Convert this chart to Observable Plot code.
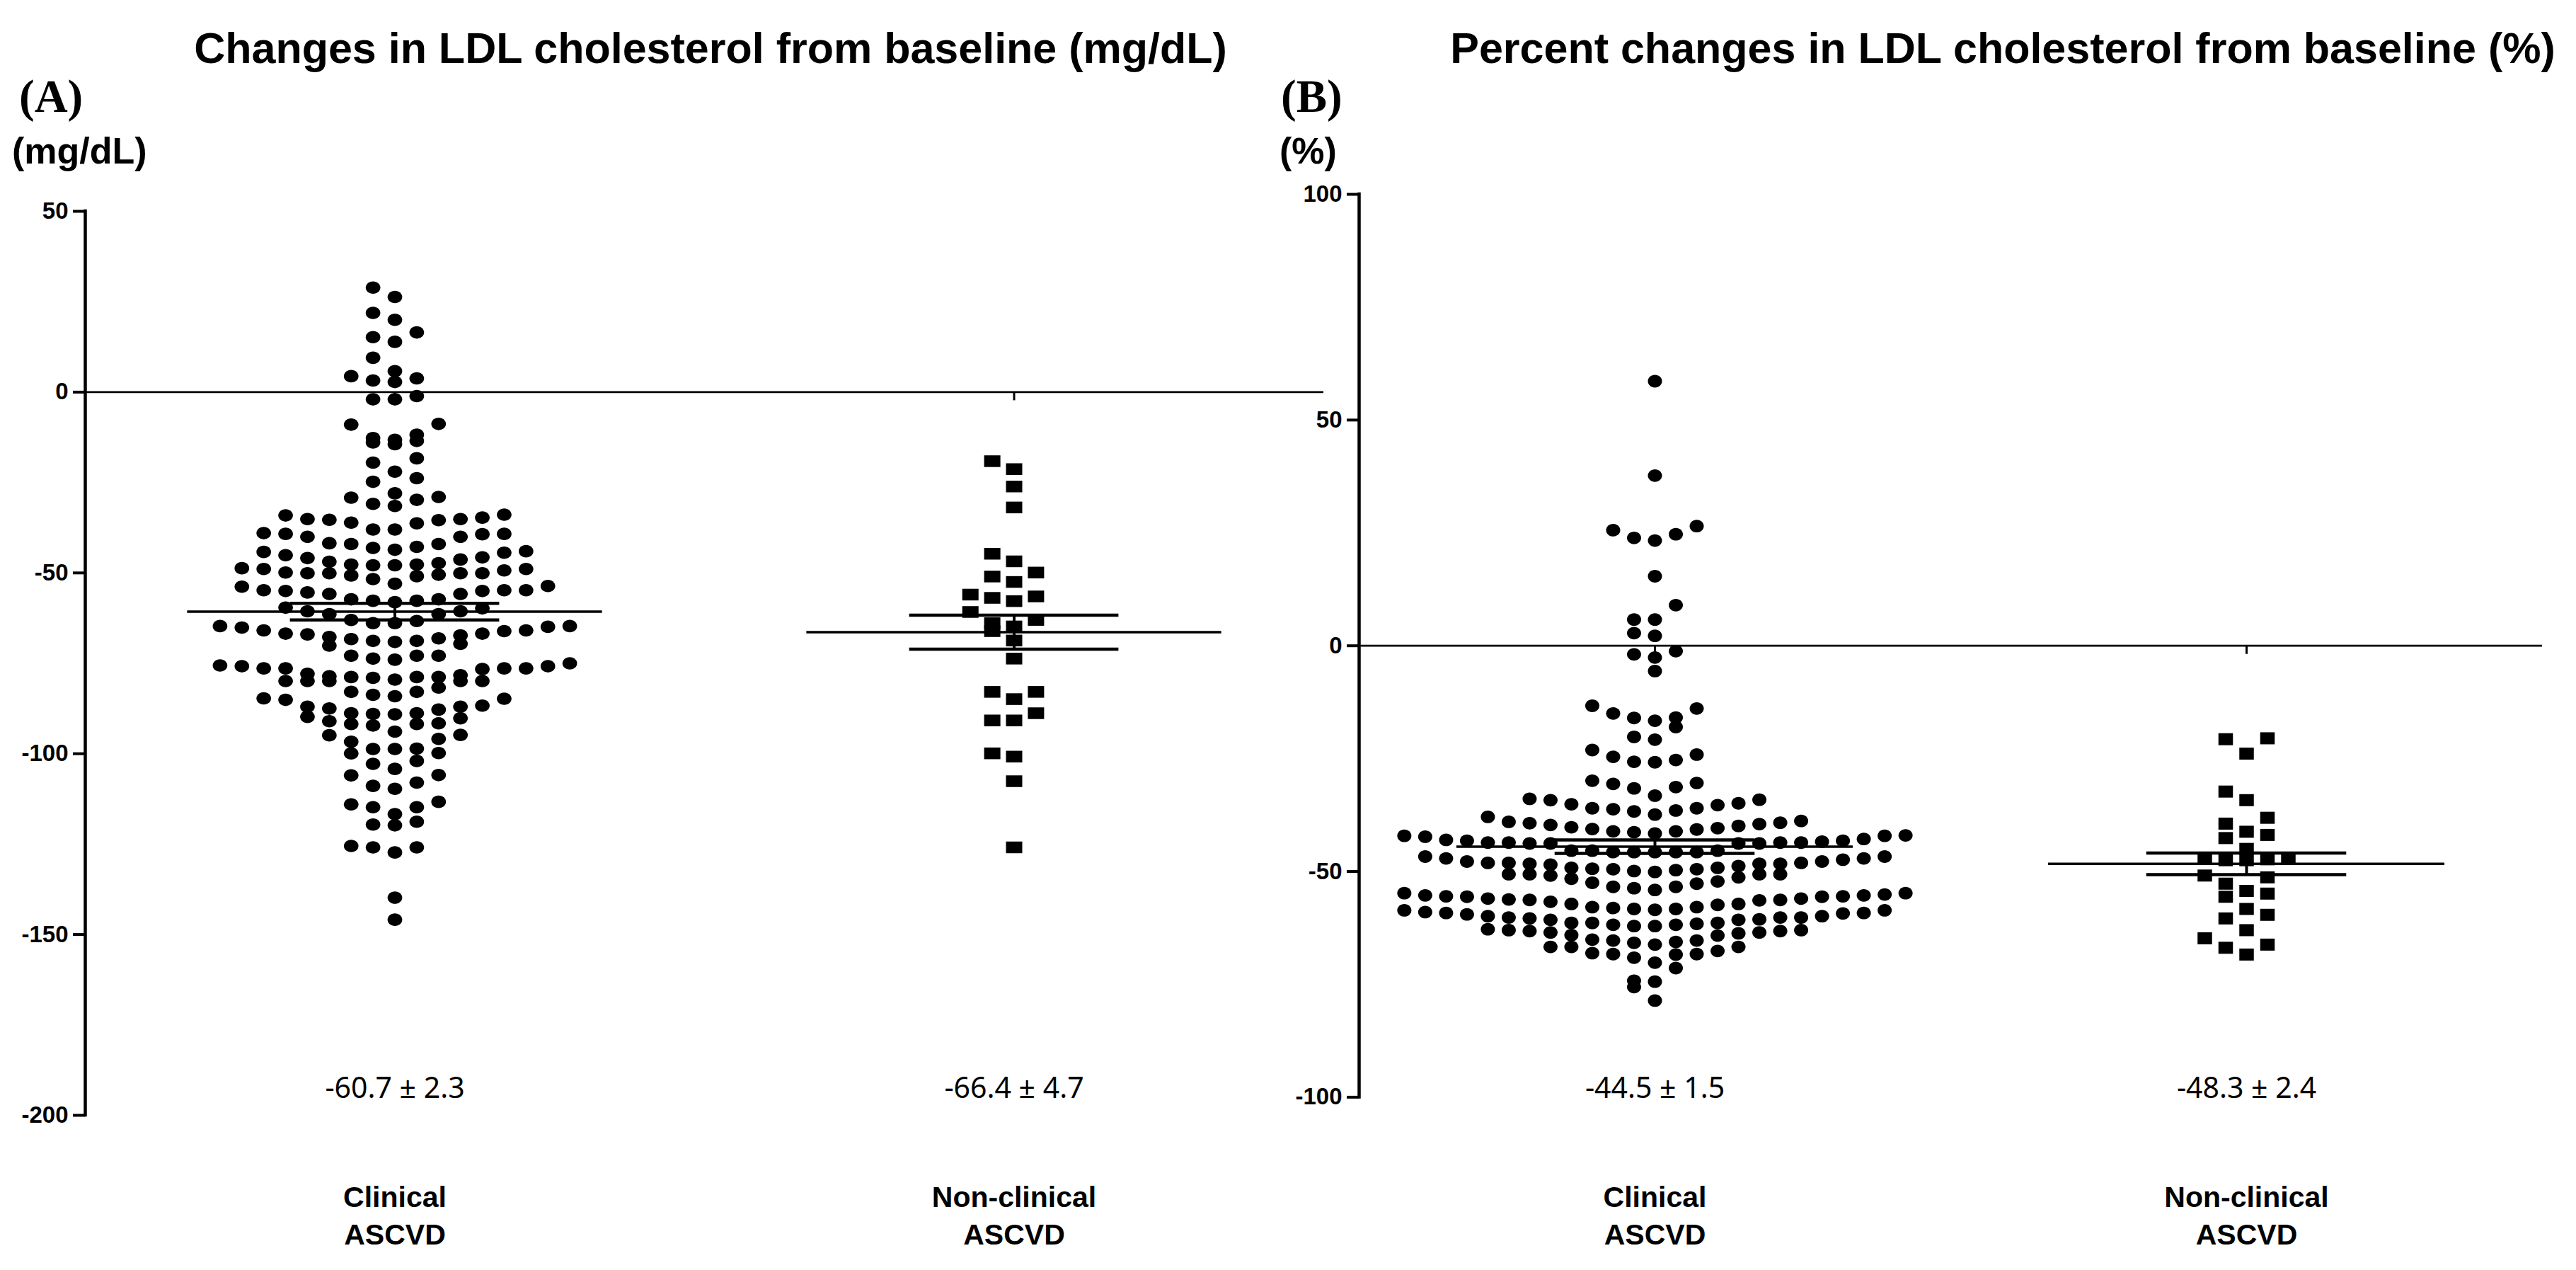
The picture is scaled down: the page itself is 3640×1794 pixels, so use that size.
<!DOCTYPE html>
<html><head><meta charset="utf-8">
<script src="https://cdn.jsdelivr.net/npm/d3@7"></script>
<script src="https://cdn.jsdelivr.net/npm/@observablehq/plot@0.6"></script>
<style>
html,body{margin:0;padding:0;background:#fff;}
#wrap{position:relative;width:3640px;height:1794px;overflow:hidden;background:#fff;}
.t{position:absolute;white-space:nowrap;line-height:1;color:#000;}
.title{font:bold 61px "Liberation Sans",Arial,sans-serif;width:2000px;text-align:center;}
.panel{font:bold 65px "Liberation Serif","Times New Roman",serif;}
.unit{font:bold 52px "Liberation Sans",Arial,sans-serif;}
</style></head>
<body><div id="wrap">
<div class="t title" style="left:4px;top:33px">Changes in LDL cholesterol from baseline (mg/dL)</div>
<div class="t title" style="left:1830px;top:33px">Percent changes in LDL cholesterol from baseline (%)</div>
<div class="t panel" style="left:27px;top:99px">(A)</div>
<div class="t panel" style="left:1810px;top:99px">(B)</div>
<div class="t unit" style="left:17px;top:183px">(mg/dL)</div>
<div class="t unit" style="left:1808px;top:183px">(%)</div>
</div>
<script>
// ---------- data ----------
const categories = ["Clinical\nASCVD", "Non-clinical\nASCVD"];

const clinicalMg = [
28.9, 26.3, 21.9, 20.0, 16.5, 15.2, 13.9, 9.5, 5.8, 4.4, 3.8, 3.2, 2.8,
-1.1, -2.0, -2.0, -8.8, -9.0, -11.8, -12.7, -13.2, -13.5, -13.9, -14.4,
-18.3, -19.5, -22.0, -23.8, -24.8, -28.0, -29.0, -29.2, -29.8, -30.9, -31.5,
-33.9, -34.1, -34.7, -35.1, -35.1, -35.3, -35.4, -36.1, -36.3, -38.0, -38.0,
-39.0, -39.2, -39.2, -39.3, -40.0, -40.0, -41.8, -42.0, -42.0, -42.8, -43.1,
-43.6, -44.0, -44.2, -44.4, -45.1, -45.7, -45.9, -46.3, -46.9, -47.3, -47.7, -47.7, -47.9, -47.9,
-48.7, -48.9, -48.9, -49.3, -49.9, -50.1, -50.1, -50.1, -50.1, -50.5, -50.7, -50.9, -51.7, -53.0,
-53.6, -53.8, -54.8, -54.8, -54.8, -55.0, -55.0, -55.4, -55.8, -55.8,
-57.3, -57.3, -57.7, -57.7, -58.1, -59.6, -59.8, -60.6, -60.6, -61.4, -61.4, -63.0,
-63.3, -63.9, -63.9, -64.7, -64.7, -64.9, -65.1, -65.9, -65.9, -66.1, -66.8, -66.8, -67.0, -67.3, -67.7, -68.1, -68.3, -68.8, -68.8, -69.1, -69.6, -70.1,
-72.9, -72.9, -72.9, -73.7, -74.0,
-75.0, -75.6, -75.8, -75.8, -76.4, -76.4, -76.4, -76.4, -76.6,
-77.9, -78.3, -78.6, -78.8, -78.8, -78.8, -79.0, -79.5, -79.9, -79.9, -79.9, -79.9, -79.9,
-81.7, -82.9, -82.9, -83.7, -84.1, -84.7, -84.8, -85.1,
-86.7, -87.0, -87.0, -87.5, -87.8, -88.8, -88.8, -89.0, -89.1, -89.8, -90.2, -91.0, -91.6, -91.8, -91.8, -92.2, -93.9,
-94.8, -94.9, -95.9, -96.7, -98.6, -98.7, -98.7, -99.8, -99.9, -102.0, -102.8, -104.2,
-105.9, -106.0, -108.0, -108.9, -109.7,
-113.3, -114.0, -114.8, -114.8, -116.7, -118.8, -119.6, -119.8,
-125.5, -125.9, -125.9, -127.3,
-139.8, -145.9
];

const nonClinicalMg = [
-19.1, -21.3, -26.1, -31.9, -44.7, -46.8, -49.9, -51.0, -52.5, -56.0, -56.5, -56.9, -57.8,
-60.8, -63.0, -63.9, -64.8, -66.1, -68.7, -73.7, -82.9, -82.9, -84.9, -88.8, -90.8, -90.8,
-99.9, -100.8, -107.6, -125.9
];

const clinicalPct = [
58.6, 37.7, 26.5, 25.6, 24.7, 23.9, 23.3, 15.4, 9.0, 5.8, 5.8, 2.8, 2.2, -1.2, -1.9, -2.6, -5.6,
-13.3, -13.9, -15.0, -15.9, -16.0, -16.6, -18.0,
-20.2, -20.8,
-23.1, -24.1, -24.6, -25.3, -25.7, -25.8,
-29.9, -30.4, -30.6, -31.3, -31.6,
-33.2, -33.9, -34.1, -34.2, -34.9, -35.1, -35.3, -36.0, -36.0, -36.2, -36.5, -36.7,
-37.4, -37.9, -38.8, -39.0, -39.2, -39.3, -39.5, -39.7, -39.9, -40.2, -40.4, -40.6, -40.7, -41.1, -41.1, -41.3,
-41.6, -42.0, -42.1, -42.1, -42.3, -42.8, -43.0,
-43.2, -43.2, -43.4, -43.6, -43.6, -43.6, -43.6, -43.8, -43.8, -43.8, -43.8,
-45.4, -45.4, -45.4, -45.7, -45.7, -45.7, -45.7, -45.7,
-46.7, -46.7, -47.1, -47.1, -47.4, -47.8, -47.8, -48.1, -48.1, -48.1, -48.3, -48.3, -48.3, -48.5, -48.8, -49.2, -49.2, -49.4, -49.5,
-49.5, -49.7, -49.9, -50.1, -50.6, -50.6, -50.6, -50.6, -50.9, -51.3, -51.6, -52.2,
-52.5, -52.7, -53.4, -53.4, -53.7, -54.1,
-54.8, -54.8, -55.1, -55.3, -55.3, -55.5, -55.5, -55.6, -55.6, -56.0, -56.0, -56.2, -56.3, -56.3, -56.4, -56.7, -57.2, -57.2, -57.4,
-57.9, -57.9, -58.1, -58.3, -58.3, -58.5, -58.6, -58.6, -59.0, -59.2,
-59.2, -59.3, -59.5, -59.9, -59.9, -60.2, -60.2, -60.2, -60.4, -60.6, -60.7, -60.7, -61.4, -61.4, -61.4, -61.6, -61.8, -61.8, -62.1,
-62.1, -62.8, -63.0, -63.0, -63.2, -63.2, -63.5, -63.5, -63.7, -64.1, -64.2, -65.1, -65.3, -65.3, -65.6, -65.8,
-66.2, -66.7, -66.7, -66.7, -67.6, -68.1, -68.3, -68.3, -68.4, -69.1, -70.2,
-71.4, -74.2, -74.4, -75.6, -78.6
];

const nonClinicalPct = [
-20.5, -20.7, -23.9, -32.3, -34.2, -38.1, -39.4, -41.2, -41.9, -42.6,
-45.0, -47.1, -47.1, -47.3, -47.5, -47.5, -50.9, -51.3, -52.7, -54.3,
-54.9, -55.6, -58.3, -59.6, -60.4, -63.0, -64.8, -66.2, -66.9, -68.4
];

const meanMg = [-60.7, -66.4];
const semMg = [2.3, 4.7];
const meanPct = [-44.5, -48.3];
const semPct = [1.5, 2.4];

const ticksMg = [50, 0, -50, -100, -150, -200];
const ticksPct = [100, 50, 0, -50, -100];

// ---------- helpers ----------
function ellipseSymbol(w, h) {
  return {draw(ctx) {
    const a = w / 2, b = h / 2, k = 0.5523;
    ctx.moveTo(a, 0);
    ctx.bezierCurveTo(a, k * b, k * a, b, 0, b);
    ctx.bezierCurveTo(-k * a, b, -a, k * b, -a, 0);
    ctx.bezierCurveTo(-a, -k * b, -k * a, -b, 0, -b);
    ctx.bezierCurveTo(k * a, -b, a, -k * b, a, 0);
    ctx.closePath();
  }};
}
function rectSymbol(w, h) {
  return {draw(ctx) { ctx.rect(-w / 2, -h / 2, w, h); }};
}

// GraphPad-like scatter: values grouped into horizontal rows, lowest value in
// the middle, the others alternating left/right on a column grid.
function swarm(values, cat, pxPerUnit, binPx, step) {
  const sorted = values.slice().sort((a, b) => b - a);
  const rows = [];
  let row = null;
  for (const v of sorted) {
    if (!row || (row.top - v) * pxPerUnit >= binPx) { row = {top: v, items: []}; rows.push(row); }
    row.items.push(v);
  }
  const out = [];
  for (const r of rows) {
    r.items.sort((a, b) => a - b).forEach((v, i) => {
      const k = i === 0 ? 0 : (i % 2 ? -(i + 1) / 2 : i / 2);
      out.push({value: v, x: cat + k * step});
    });
  }
  return out;
}

function panel(cfg) {
  const plotH = 1794;
  const ppu = (plotH - cfg.marginTop - cfg.marginBottom) / (cfg.yMax - cfg.yMin);
  const step = 0.0353;
  const dotsC = swarm(cfg.clinical, 0, ppu, 24, step);
  const dotsN = swarm(cfg.nonClinical, 1, ppu, 24, step);
  const stats = cfg.means.map((m, i) => ({i, mean: m, sem: cfg.sems[i]}));
  const frameBottom = plotH - cfg.marginBottom;
  return Plot.plot({
    width: cfg.width, height: plotH,
    marginLeft: cfg.marginLeft, marginRight: cfg.marginRight,
    marginTop: cfg.marginTop, marginBottom: cfg.marginBottom,
    style: {position: "absolute", left: cfg.left + "px", top: "0px", background: "transparent",
            fontFamily: "'Liberation Sans', Arial, sans-serif", overflow: "visible", maxWidth: "none"},
    x: {domain: [-0.5, 1.5], axis: null},
    y: {domain: [cfg.yMin, cfg.yMax]},
    marks: [
      Plot.ruleY([0], {x1: -0.5, x2: 1.5, strokeWidth: 2.7, stroke: "black"}),
      Plot.ruleX([0, 1], {x: d => d, y1: 0, y2: -12 / ppu, strokeWidth: 3, stroke: "black"}),
      Plot.ruleX([-0.5], {y1: cfg.yMin, y2: cfg.yMax, strokeWidth: 4.5, stroke: "black", strokeLinecap: "square"}),
      Plot.axisY({ticks: cfg.ticks, tickSize: 17, tickPadding: 7, tickFormat: d => String(d),
                  fontSize: 33, fontWeight: "bold", strokeWidth: 4, label: null}),
      Plot.dot(dotsC, {x: "x", y: "value", r: 10, symbol: ellipseSymbol(cfg.dotW, cfg.dotH), fill: "black", stroke: "none"}),
      Plot.dot(dotsN, {x: "x", y: "value", r: 10, symbol: rectSymbol(cfg.sqW, cfg.sqH), fill: "black", stroke: "none"}),
      Plot.ruleY(stats, {y: "mean", x1: d => d.i - 0.335, x2: d => d.i + 0.335, strokeWidth: 3.5, stroke: "black"}),
      Plot.ruleY(stats, {y: d => d.mean + d.sem, x1: d => d.i - 0.169, x2: d => d.i + 0.169, strokeWidth: 4.5, stroke: "black"}),
      Plot.ruleY(stats, {y: d => d.mean - d.sem, x1: d => d.i - 0.169, x2: d => d.i + 0.169, strokeWidth: 4.5, stroke: "black"}),
      Plot.ruleX(stats, {x: "i", y1: d => d.mean - d.sem, y2: d => d.mean + d.sem, strokeWidth: 4, stroke: "black"}),
      Plot.text(stats, {x: "i", text: d => `${d.mean.toFixed(1)} ± ${d.sem.toFixed(1)}`,
                        frameAnchor: "bottom", dy: 1550 - frameBottom, lineAnchor: "bottom",
                        fontSize: 41, fontFamily: "'Noto Sans', sans-serif", fontWeight: 400, fill: "black"}),
      Plot.text(categories, {x: (d, i) => i, text: d => d,
                        frameAnchor: "bottom", dy: 1667 - frameBottom, lineAnchor: "top",
                        lineHeight: 1.29, fontSize: 41, fontWeight: "bold", fill: "black"})
    ]
  });
}

const wrap = document.getElementById("wrap");
wrap.appendChild(panel({
  left: 0, width: 1880, marginLeft: 120, marginRight: 10, marginTop: 298, marginBottom: 219,
  yMin: -200, yMax: 50, ticks: ticksMg,
  clinical: clinicalMg, nonClinical: nonClinicalMg, means: meanMg, sems: semMg,
  dotW: 20.7, dotH: 17.6, sqW: 23, sqH: 16.5
}));
wrap.appendChild(panel({
  left: 1760, width: 1880, marginLeft: 160, marginRight: 48, marginTop: 274, marginBottom: 244.6,
  yMin: -100, yMax: 100, ticks: ticksPct,
  clinical: clinicalPct, nonClinical: nonClinicalPct, means: meanPct, sems: semPct,
  dotW: 20, dotH: 17.8, sqW: 20.5, sqH: 17
}));
</script>
</body></html>
